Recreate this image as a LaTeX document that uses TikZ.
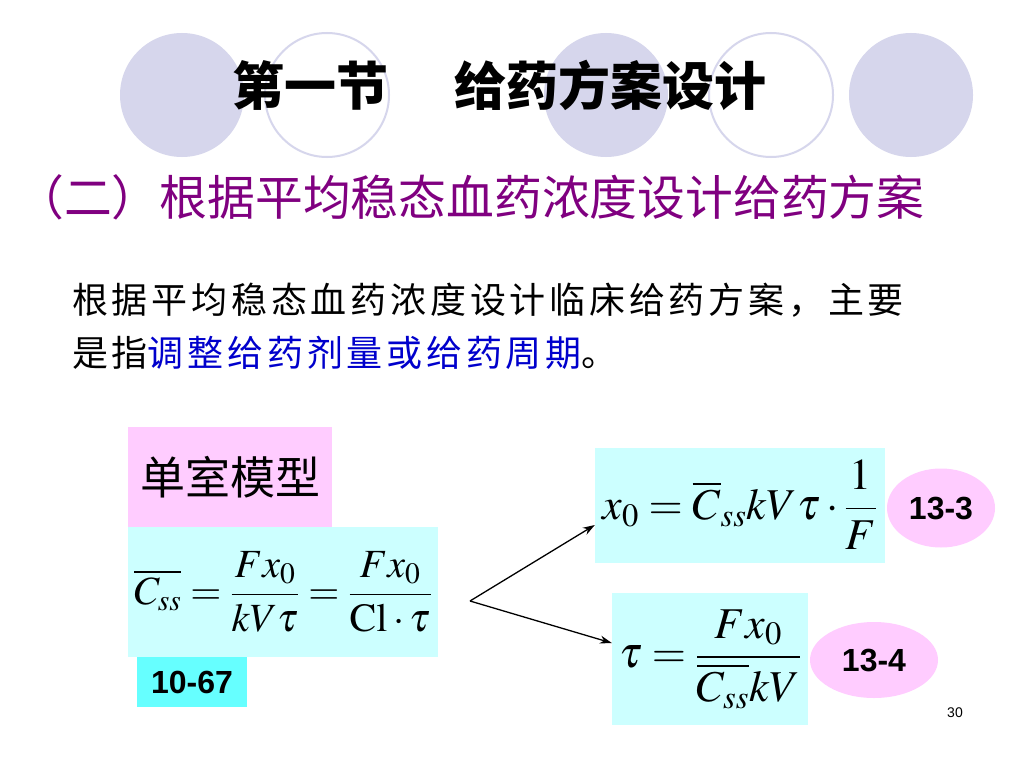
\documentclass[tikz,border=0pt]{standalone}
\usepackage{mathptmx}
\usepackage[no-math]{fontspec}
\usepackage{amsmath}
\usepackage{xcolor}
\usetikzlibrary{shapes.geometric,arrows.meta}
\newfontfamily\cjk{Noto Sans CJK SC}
\newfontfamily\cjkbody{Noto Sans CJK SC}[LetterSpace=10.5]
\newfontfamily\arialfont{Liberation Sans}
\definecolor{ringlav}{RGB}{214,214,236}
\definecolor{subpurple}{RGB}{128,0,128}
\definecolor{keyblue}{RGB}{0,0,204}
\definecolor{boxpink}{RGB}{255,204,255}
\definecolor{boxcyan}{RGB}{204,255,255}
\definecolor{tagcyan}{RGB}{102,255,255}
\tikzset{>={Stealth[length=12pt,width=8pt]},
  formbox/.style={fill=boxcyan, inner sep=0pt, font=\fontsize{44}{50}\selectfont},
  tagell/.style={ellipse, fill=boxpink, inner sep=0pt, font=\arialfont\bfseries\fontsize{32}{36}\selectfont}}

\begin{document}
\begin{tikzpicture}[x=1pt,y=-1pt]
        \def\rad{62pt}
        \useasboundingbox[fill=white] (0,0) rectangle (1024,768);

        %circles
        \fill[ringlav] (182,95) circle (\rad);
        \draw[ringlav, line width=2pt] (327,95) circle (\rad);
        \fill[ringlav] (606,95) circle (\rad);
        \draw[ringlav, line width=2pt] (771,95) circle (\rad);
        \fill[ringlav] (911,95) circle (\rad);

        %titles
        \node[anchor=west, inner sep=0pt, font=\cjk\bfseries\fontsize{52}{60}\selectfont] (title) at (232,85) {第一节\hspace{66pt}给药方案设计};
        \node[anchor=west, inner sep=0pt, text=subpurple, font=\cjk\fontsize{47.8}{56}\selectfont] (subtitle) at (16,197) {（二）根据平均稳态血药浓度设计给药方案};

        %text
        \node[anchor=west, inner sep=0pt, font=\cjkbody\fontsize{36}{44}\selectfont] (line1) at (72,300) {根据平均稳态血药浓度设计临床给药方案，主要};
        \node[anchor=west, inner sep=0pt, font=\cjkbody\fontsize{36}{44}\selectfont] (line2) at (72,353) {是指\textcolor{keyblue}{调整给药剂量或给药周期}。};

        %single compartment
        \node[fill=boxpink, minimum width=204pt, minimum height=100pt, inner sep=0pt, font=\cjk\fontsize{45}{50}\selectfont] (model) at (230,477) {单室模型};
        \node[formbox, font=\fontsize{40}{46}\selectfont, minimum width=310pt, minimum height=130pt] (css) at (283,592) {$\displaystyle \overline{C_{ss}}=\frac{Fx_0}{kV\tau}=\frac{Fx_0}{\mathrm{Cl}\cdot\tau}$};
        \node[fill=tagcyan, minimum width=110pt, minimum height=50pt, inner sep=0pt, font=\arialfont\bfseries\fontsize{32}{36}\selectfont] (eqa) at (192,682) {10-67};

        %dose and interval
        \node[formbox, minimum width=290pt, minimum height=115pt] (dose) at (740,505) {$\displaystyle x_0=\overline{C}_{ss}kV\tau\cdot\frac{1}{F}$};
        \node[formbox, minimum width=196pt, minimum height=132pt] (tau) at (710,659) {$\displaystyle \tau=\frac{Fx_0}{\overline{C_{ss}}kV}$};
        \node[tagell, minimum width=108pt, minimum height=79pt] (eqb) at (941,508) {13-3};
        \node[tagell, minimum width=128pt, minimum height=76pt] (eqc) at (874,660) {13-4};

        %arrows
        \coordinate (fork) at (470,601);
        \draw[->, line width=1.3pt] (fork) -- ([yshift=-20pt]dose.west);
        \draw[->, line width=1.3pt] (fork) -- ([yshift=16pt]tau.west);

        \node[font=\arialfont\fontsize{14}{16}\selectfont] (pagenum) at (955,713) {30};
\end{tikzpicture}
\end{document}
